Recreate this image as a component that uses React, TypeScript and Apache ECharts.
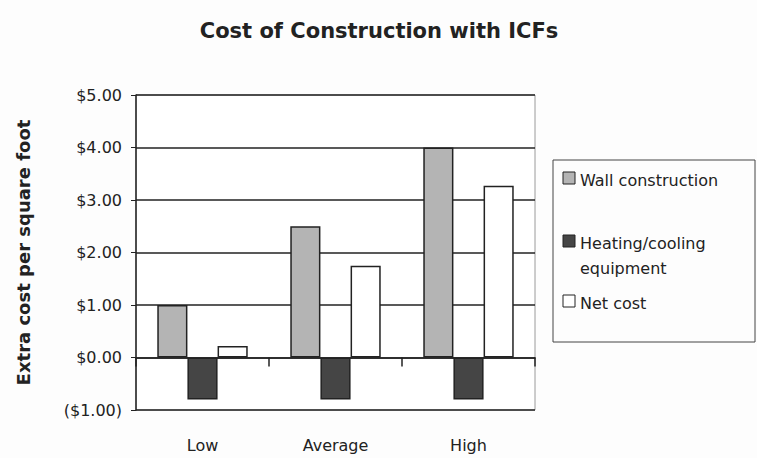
import React, { useEffect, useRef } from "react";
import * as echarts from "echarts";

const categories = ["Low", "Average", "High"];
const seriesNames = ["Wall construction", "Heating/cooling\nequipment", "Net cost"];
const wallConstruction = [1.0, 2.5, 4.0];
const heatingCooling = [-0.8, -0.8, -0.8];
const netCost = [0.22, 1.75, 3.27];
const yTicks = { min: -1, max: 5, interval: 1 };

const FONT = "'DejaVu Sans', Arial, sans-serif";

const fills = ["#b4b4b4", "#454545", "#ffffff"];
const legendY = [178, 241, 301];

export default function App() {
  const ref = useRef<HTMLDivElement>(null);
  useEffect(() => {
    if (!ref.current) return;
    const chart = echarts.init(ref.current, undefined, { renderer: "svg" });
    const values = [wallConstruction, heatingCooling, netCost];
    const legendGraphics: any[] = [
      {
        type: "rect",
        shape: { x: 553, y: 160, width: 202, height: 182 },
        style: { fill: "#fdfdfd", stroke: "#444", lineWidth: 1 },
      },
    ];
    seriesNames.forEach((n, i) => {
      legendGraphics.push({
        type: "rect",
        shape: { x: 563, y: legendY[i] - 6, width: 12, height: 12 },
        style: { fill: fills[i], stroke: "#222", lineWidth: 1 },
      });
      legendGraphics.push({
        type: "text",
        x: 580,
        y: legendY[i] - 10,
        style: {
          text: n,
          font: `16px ${FONT}`,
          fill: "#222",
          lineHeight: 25,
          textVerticalAlign: "top",
        },
      });
    });
    chart.setOption({
      animation: false,
      backgroundColor: "#fdfdfd",
      title: {
        text: "Cost of Construction with ICFs",
        left: 374,
        textAlign: "center",
        top: 15,
        textStyle: { fontFamily: FONT, fontSize: 21, fontWeight: "bold", color: "#222" },
      },
      grid: {
        left: 136,
        right: 222,
        top: 95,
        bottom: 48,
        show: true,
        borderColor: "#9a9a9a",
        borderWidth: 1,
        backgroundColor: "#ffffff",
      },
      xAxis: [
        {
          type: "category",
          data: categories,
          axisLine: { onZero: true, lineStyle: { color: "#222", width: 1.5 } },
          axisTick: { show: true, length: 9, lineStyle: { color: "#222", width: 1.5 } },
          axisLabel: { show: false },
        },
        {
          type: "category",
          data: categories,
          position: "bottom",
          axisLine: { show: false, onZero: false },
          axisTick: { show: false },
          axisLabel: { margin: 27, fontFamily: FONT, fontSize: 16, color: "#222" },
        },
      ],
      yAxis: {
        type: "value",
        min: yTicks.min,
        max: yTicks.max,
        interval: yTicks.interval,
        name: "Extra cost per square foot",
        nameLocation: "middle",
        nameGap: 104,
        nameTextStyle: { fontFamily: FONT, fontSize: 18, fontWeight: "bold", color: "#222" },
        axisLine: { show: true, lineStyle: { color: "#222", width: 1.5 } },
        axisTick: { show: true, length: 5, lineStyle: { color: "#222" } },
        axisLabel: {
          margin: 14,
          fontFamily: FONT,
          fontSize: 16,
          color: "#222",
          formatter: (v: number) => (v < 0 ? `($${Math.abs(v).toFixed(2)})` : `$${v.toFixed(2)}`),
        },
        splitLine: { show: true, lineStyle: { color: "#222", width: 1.5 } },
      },
      series: values.map((d, i) => ({
        type: "bar",
        name: seriesNames[i],
        data: d,
        xAxisIndex: 0,
        barGap: "0%",
        barCategoryGap: "32%",
        itemStyle: { color: fills[i], borderColor: "#222", borderWidth: 1.5 },
      })),
      graphic: legendGraphics,
    });
    return () => chart.dispose();
  }, []);
  return <div ref={ref} style={{ width: 757, height: 458, position: "absolute", left: 0, top: 0 }} />;
}
